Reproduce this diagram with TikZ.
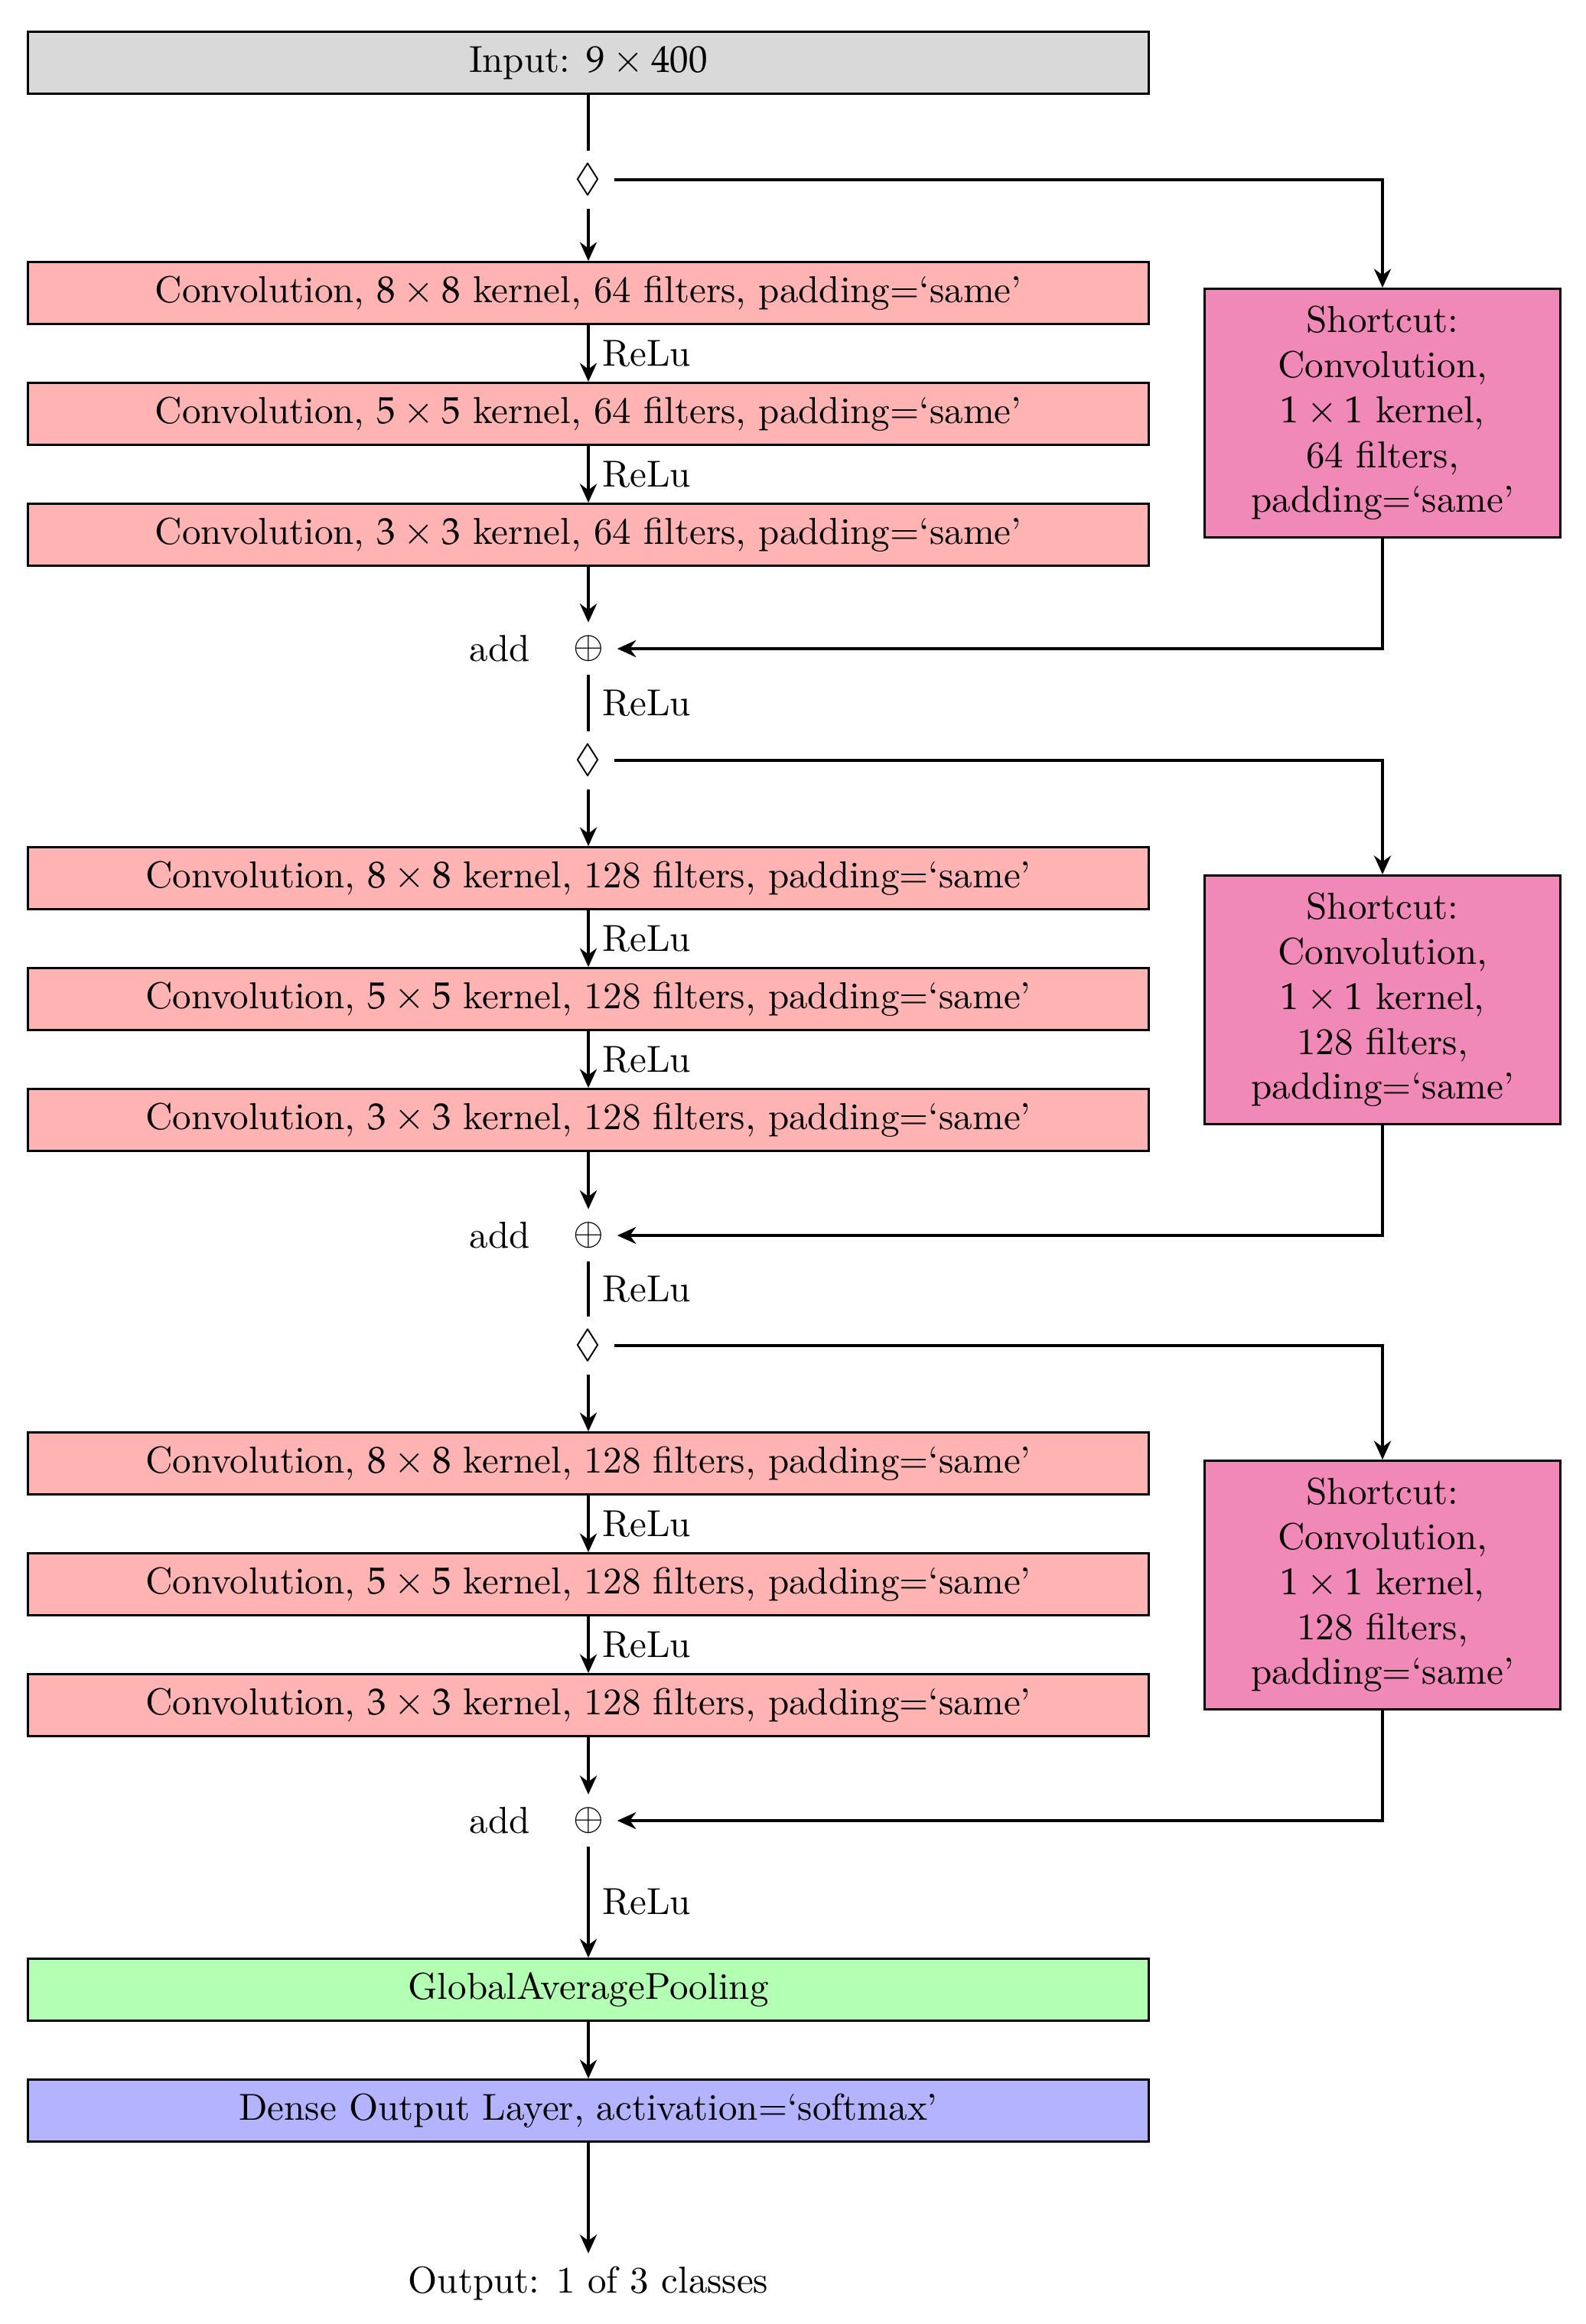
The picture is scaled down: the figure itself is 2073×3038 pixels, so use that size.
\documentclass[tikz,border=0pt]{standalone}
\usepackage{amssymb}
\usepackage{mathpazo}
\usetikzlibrary{arrows.meta}
\definecolor{cgrey}{HTML}{D9D9D9}
\definecolor{cpink}{HTML}{FFB3B3}
\definecolor{cmag}{HTML}{F088B8}
\definecolor{cgreen}{HTML}{B3FFB3}
\definecolor{cblue}{HTML}{B3B3FF}
\begin{document}
\begin{tikzpicture}[x=0.204pt,y=-0.204pt,
  box/.style={draw,semithick,minimum width=299pt,minimum height=16.5pt,inner sep=0pt},
  sc/.style={draw,semithick,fill=cmag,minimum width=94.9pt,minimum height=66.3pt,align=center,inner sep=0pt},
  arr/.style={thick,-{Stealth[length=5pt,width=4.5pt]}},
  ln/.style={thick},
  lab/.style={right,font=\normalsize}]
\useasboundingbox (0,0) rectangle (2073,3038);
\node[box,fill=cgrey] (in) at (769,82) {Input: $9\times400$};
% block 1
\node (d1) at (769,235) {$\Diamond$};
\node[box,fill=cpink] (c11) at (769,383) {Convolution, $8\times8$ kernel, 64 filters, padding=`same'};
\node[box,fill=cpink] (c12) at (769,541) {Convolution, $5\times5$ kernel, 64 filters, padding=`same'};
\node[box,fill=cpink] (c13) at (769,699) {Convolution, $3\times3$ kernel, 64 filters, padding=`same'};
\node (a1) at (769,848) {$\oplus$};
\node[left=12pt] (a1l) at (a1) {add};
\node[sc] (s1) at (1807,540) {Shortcut:\\Convolution,\\$1\times1$ kernel,\\64 filters,\\padding=`same'};
% block 2
\node (d2) at (769,994) {$\Diamond$};
\node[box,fill=cpink] (c21) at (769,1148) {Convolution, $8\times8$ kernel, 128 filters, padding=`same'};
\node[box,fill=cpink] (c22) at (769,1306) {Convolution, $5\times5$ kernel, 128 filters, padding=`same'};
\node[box,fill=cpink] (c23) at (769,1464) {Convolution, $3\times3$ kernel, 128 filters, padding=`same'};
\node (a2) at (769,1615) {$\oplus$};
\node[left=12pt] (a2l) at (a2) {add};
\node[sc] (s2) at (1807,1307) {Shortcut:\\Convolution,\\$1\times1$ kernel,\\128 filters,\\padding=`same'};
% block 3
\node (d3) at (769,1759) {$\Diamond$};
\node[box,fill=cpink] (c31) at (769,1913) {Convolution, $8\times8$ kernel, 128 filters, padding=`same'};
\node[box,fill=cpink] (c32) at (769,2071) {Convolution, $5\times5$ kernel, 128 filters, padding=`same'};
\node[box,fill=cpink] (c33) at (769,2229) {Convolution, $3\times3$ kernel, 128 filters, padding=`same'};
\node (a3) at (769,2380) {$\oplus$};
\node[left=12pt] (a3l) at (a3) {add};
\node[sc] (s3) at (1807,2072) {Shortcut:\\Convolution,\\$1\times1$ kernel,\\128 filters,\\padding=`same'};
% tail
\node[box,fill=cgreen] (gap) at (769,2601) {GlobalAveragePooling};
\node[box,fill=cblue] (den) at (769,2759) {Dense Output Layer, activation=`softmax'};
\node (out) at (769,2985) {Output: 1 of 3 classes};
% connectors
\draw[ln] (in) -- (d1);
\foreach \d/\a/\b/\c/\ad/\s in {d1/c11/c12/c13/a1/s1, d2/c21/c22/c23/a2/s2, d3/c31/c32/c33/a3/s3}{
  \draw[arr] (\d) -- (\a);
  \draw[arr] (\a) -- node[lab]{ReLu} (\b);
  \draw[arr] (\b) -- node[lab]{ReLu} (\c);
  \draw[arr] (\c) -- (\ad);
  \draw[arr] (\d.east) -| (\s.north);
  \draw[arr] (\s.south) |- (\ad.east);
}
\draw[ln] (a1) -- node[lab]{ReLu} (d2);
\draw[ln] (a2) -- node[lab]{ReLu} (d3);
\draw[arr] (a3) -- node[lab]{ReLu} (gap);
\draw[arr] (gap) -- (den);
\draw[arr] (den) -- (out);
\end{tikzpicture}
\end{document}
